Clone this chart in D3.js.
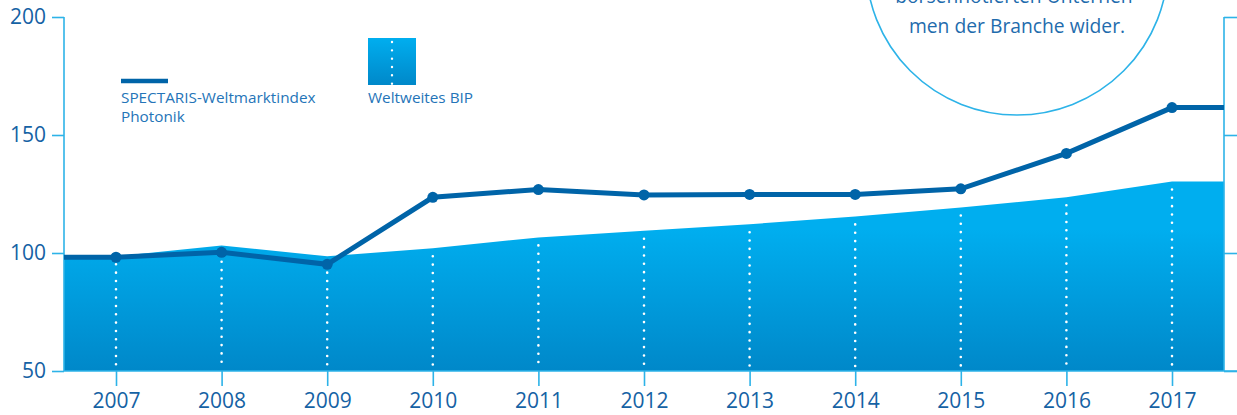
<!DOCTYPE html>
<html>
<head>
<meta charset="utf-8">
<script src="https://cdn.jsdelivr.net/npm/d3@7"></script>
<style>
  body { margin: 0; background: #fff; }
  svg { display: block; font-family: "Open Sans", "Noto Sans", sans-serif; }
</style>
</head>
<body>
<script>
// data
var years = [2007, 2008, 2009, 2010, 2011, 2012, 2013, 2014, 2015, 2016, 2017];
var photonik = [98.2, 100.3, 95.2, 123.6, 126.9, 124.6, 124.8, 124.8, 127.2, 142.2, 161.6];
var bip = [98.6, 103.2, 98.6, 102, 106.6, 109.4, 112.2, 115.5, 119.3, 123.6, 130.3];
var yTicks = [50, 100, 150, 200];
var legendLine = ["SPECTARIS-Weltmarktindex", "Photonik"];
var legendArea = "Weltweites BIP";
var circleText = ["börsennotierten Unterneh-", "men der Branche wider."];

function main() {
  var width = 1237, height = 415;
  var left = 64, right = 1224, top = 17, bottom = 371;

  var axisColor = "#2db3e8";
  var textColor = "#1562a4";
  var lineColor = "#0064a8";

  var svg = d3.select("body").append("svg")
    .attr("width", width)
    .attr("height", height);

  var x = d3.scaleLinear().domain([2007, 2017]).range([116, 1172]);
  var y = d3.scaleLinear().domain([50, 200]).range([bottom, top]);

  // gradients for the BIP area and its legend box
  var defs = svg.append("defs");
  var grad = defs.append("linearGradient")
    .attr("id", "bipGrad")
    .attr("x1", 0).attr("y1", 0).attr("x2", 0).attr("y2", 1);
  grad.append("stop").attr("offset", "0%").attr("stop-color", "#00aeef");
  grad.append("stop").attr("offset", "100%").attr("stop-color", "#0088c9");

  var grad2 = defs.append("linearGradient")
    .attr("id", "areaGrad")
    .attr("gradientUnits", "userSpaceOnUse")
    .attr("x1", 0).attr("y1", y(110)).attr("x2", 0).attr("y2", bottom);
  grad2.append("stop").attr("offset", "0%").attr("stop-color", "#00aeef");
  grad2.append("stop").attr("offset", "100%").attr("stop-color", "#0088c9");

  // extend both series flat to the axes
  var bipPts = [[left, bip[0]]].concat(years.map(function (d, i) { return [x(d), bip[i]]; }), [[right, bip[bip.length - 1]]]);
  var phoPts = [[left, photonik[0]]].concat(years.map(function (d, i) { return [x(d), photonik[i]]; }), [[right, photonik[photonik.length - 1]]]);

  var area = d3.area()
    .x(function (d) { return d[0]; })
    .y0(bottom)
    .y1(function (d) { return y(d[1]); });

  svg.append("path")
    .datum(bipPts)
    .attr("d", area)
    .attr("fill", "url(#areaGrad)");

  // dotted white drop lines
  svg.selectAll(".drop")
    .data(years)
    .enter()
    .append("line")
    .attr("class", "drop")
    .attr("x1", function (d) { return x(d); })
    .attr("x2", function (d) { return x(d); })
    .attr("y1", function (d, i) { return y(bip[i]) + 8; })
    .attr("y2", bottom - 4)
    .attr("stroke", "#fff")
    .attr("stroke-width", 2.6)
    .attr("stroke-linecap", "round")
    .attr("stroke-dasharray", "0 8.33");

  // axes
  var yAxisL = svg.append("g")
    .attr("transform", "translate(" + left + ",0)")
    .call(d3.axisLeft(y).tickValues(yTicks).tickSize(12).tickPadding(6));
  var yAxisR = svg.append("g")
    .attr("transform", "translate(" + right + ",0)")
    .call(d3.axisRight(y).tickValues(yTicks).tickSize(14).tickFormat(""));
  var xAxis = svg.append("g")
    .attr("transform", "translate(0," + bottom + ")")
    .call(d3.axisBottom(x).tickValues(years).tickSize(15).tickPadding(7).tickFormat(d3.format("d")));

  [yAxisL, yAxisR, xAxis].forEach(function (g) {
    g.select(".domain").remove();
    g.selectAll(".tick line").attr("stroke", axisColor).attr("stroke-width", 1.6);
    g.selectAll("text")
      .attr("fill", textColor)
      .style("font-size", "21px")
      .style("font-weight", 500)
      .style("font-family", "\"Open Sans\", sans-serif");
  });

  // axis lines
  svg.append("line")
    .attr("x1", left).attr("x2", left).attr("y1", top).attr("y2", bottom)
    .attr("stroke", axisColor).attr("stroke-width", 1.6);
  svg.append("line")
    .attr("x1", right).attr("x2", right).attr("y1", top).attr("y2", bottom)
    .attr("stroke", axisColor).attr("stroke-width", 1.6);
  svg.append("line")
    .attr("x1", left).attr("x2", width).attr("y1", bottom).attr("y2", bottom)
    .attr("stroke", axisColor).attr("stroke-width", 1.6);

  // photonik line
  var line = d3.line()
    .x(function (d) { return d[0]; })
    .y(function (d) { return y(d[1]); });

  svg.append("path")
    .datum(phoPts)
    .attr("d", line)
    .attr("fill", "none")
    .attr("stroke", lineColor)
    .attr("stroke-width", 5);

  svg.selectAll(".dot")
    .data(years)
    .enter()
    .append("circle")
    .attr("class", "dot")
    .attr("cx", function (d) { return x(d); })
    .attr("cy", function (d, i) { return y(photonik[i]); })
    .attr("r", 5.5)
    .attr("fill", lineColor);

  // legend
  svg.append("line")
    .attr("x1", 121).attr("x2", 168).attr("y1", 81).attr("y2", 81)
    .attr("stroke", lineColor).attr("stroke-width", 4.5);
  svg.append("text")
    .attr("x", 121).attr("y", 103)
    .attr("fill", "#2474b8")
    .style("font-size", "15.3px")
    .selectAll("tspan")
    .data(legendLine)
    .enter()
    .append("tspan")
    .attr("x", 121)
    .attr("dy", function (d, i) { return i ? 19 : 0; })
    .text(function (d) { return d; });

  svg.append("rect")
    .attr("x", 368).attr("y", 38).attr("width", 48).attr("height", 47)
    .attr("fill", "url(#bipGrad)");
  svg.append("line")
    .attr("x1", 392).attr("x2", 392).attr("y1", 42).attr("y2", 84)
    .attr("stroke", "#fff").attr("stroke-width", 2.4)
    .attr("stroke-linecap", "round")
    .attr("stroke-dasharray", "0 8.33");
  svg.append("text")
    .attr("x", 368).attr("y", 103)
    .attr("fill", "#2474b8")
    .style("font-size", "15.3px")
    .text(legendArea);

  // annotation circle (its text continues above the picture's top edge)
  svg.append("circle")
    .attr("cx", 1017).attr("cy", -36).attr("r", 151)
    .attr("fill", "#fff")
    .attr("stroke", axisColor)
    .attr("stroke-width", 1.6);
  svg.append("text")
    .attr("text-anchor", "middle")
    .attr("fill", "#1f6cad")
    .style("font-size", "19.3px")
    .selectAll("tspan")
    .data(circleText)
    .enter()
    .append("tspan")
    .attr("x", 1017)
    .attr("y", function (d, i) { return 3 + i * 30; })
    .text(function (d) { return d; });
}
document.addEventListener("DOMContentLoaded", main);
</script>
</body>
</html>
